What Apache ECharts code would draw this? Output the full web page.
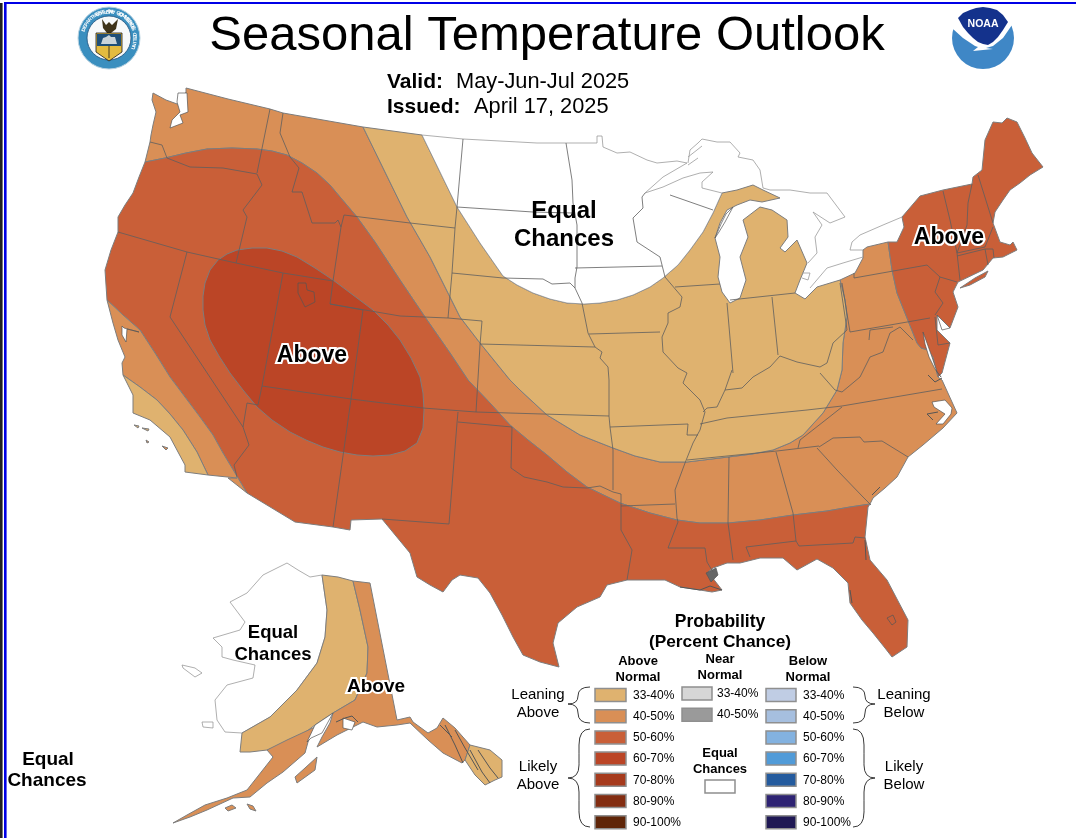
<!DOCTYPE html>
<html>
<head>
<meta charset="utf-8">
<script src="https://cdn.jsdelivr.net/npm/echarts@6/dist/echarts.min.js"></script>
<style>
html,body{margin:0;padding:0;background:#fff;}
#main{width:1076px;height:838px;}
</style>
</head>
<body>
<div id="main"></div>
<script>
// probability bins, legend text
var aboveBins = ['33-40%','40-50%','50-60%','60-70%','70-80%','80-90%','90-100%'];
var aboveColors = ['#dfb26f','#d98f56','#c95f38','#bb4526','#a63a1c','#832d11','#5f2508'];
var nearBins = ['33-40%','40-50%'];
var nearColors = ['#d6d6d6','#9a9a9a'];
var belowBins = ['33-40%','40-50%','50-60%','60-70%','70-80%','80-90%','90-100%'];
var belowColors = ['#c0cde4','#a6bfdf','#83b2e0','#519bd8','#245b9e','#2e2373','#1f1854'];

// shared edges of the outlook map, in map units
var a50North = [[145,162],[165,158],[186,153],[207,149],[232,148],[257,149],[272,151],[287,155],[302,163],[317,173],[330,185],[340,197],[357,217],[375,242],[400,280],[425,317],[450,353],[468,380],[490,403],[510,425],[528,440],[547,455],[567,472],[587,487],[620,503],[650,513],[677,520],[700,523],[728,523],[760,520],[793,515],[827,511],[850,507],[870,504]];
var a33West = [[363,127],[385,172],[407,217],[430,257],[460,317],[480,343],[510,380],[520,390],[547,415],[580,435],[613,448],[635,456],[660,462],[687,462],[728,457],[752,454],[773,450],[790,443],[803,435],[823,413],[837,390],[842,370],[843,343],[847,317],[845,300],[840,280]];
var ecCurve = [[422,135],[440,172],[457,207],[480,243],[503,276],[517,285],[533,293],[550,299],[567,303],[584,304],[600,303],[617,300],[633,295],[650,287],[663,278],[678,265],[690,250],[703,232],[713,213]];
var neEdge = [[888,242],[892,270],[897,293],[907,318],[917,343],[921,348]];
var swEdge = [[107,300],[123,315],[140,330],[155,353],[170,377],[185,397],[200,417],[213,435],[223,453],[235,473],[247,493]];
var socalEdge = [[123,375],[140,387],[157,400],[170,414],[183,430],[197,452],[208,475]];

var pacificNorth = [[145,162],[150,142],[151,135],[153,125],[156,112],[152,100],[153,93],[166,100],[180,105],[186,92],[186,88]];
var border49 = [[228,99],[270,109],[283,113],[323,120],[363,127]];
var pacificMid = [[107,300],[105,270],[111,250],[118,232],[118,217],[125,205],[133,193],[139,177],[145,162]];
var pacificSouth = [[123,375],[122,363],[125,357],[118,340],[113,323],[107,300]];
var socalCoast = [[123,375],[133,395],[133,413],[150,420],[170,437],[178,452],[185,465],[185,472],[208,475]];
var mexicoWest = [[208,475],[237,478],[228,478],[247,493]];
var mexicoEast = [[247,493],[295,522],[333,527],[350,530],[351,520],[382,519],[396,536],[410,553],[417,577],[430,585],[443,592],[452,580],[460,575],[478,578],[490,593],[502,615],[513,637],[523,655],[540,662],[559,667],[553,643],[558,623],[577,607],[600,597],[607,585],[627,580],[660,580],[665,580],[680,587],[700,590],[712,592],[722,590],[708,572],[713,568],[727,563],[740,563],[760,558],[783,558],[797,570],[817,559],[833,568],[848,583],[850,603],[862,620],[873,633],[885,648],[892,657],[907,647],[908,620],[887,580],[870,560],[865,537],[868,507],[870,504]];
var atlanticMid = [[870,504],[873,498],[885,488],[897,477],[908,457],[923,445],[943,428],[957,413],[942,380],[938,377],[933,357],[928,350],[921,348]];
var lakeMichigan = [[713,213],[722,193],[737,190],[753,185],[763,190],[780,198],[762,202],[750,200],[737,205],[727,210],[720,223],[715,238],[720,257],[718,277],[722,292],[730,303],[740,298],[746,280],[740,257],[748,237],[743,220],[760,207],[772,210],[787,220],[788,237],[780,248],[785,252],[797,240],[807,263],[800,280],[795,293],[805,299],[817,287],[840,280]];
var erieShore = [[840,280],[855,273],[863,258],[863,250],[867,247],[888,242]];
var northEastCoast = [[888,242],[897,242],[904,227],[902,217],[920,196],[943,190],[972,184],[973,177],[982,170],[985,140],[993,122],[1002,123],[1007,118],[1017,122],[1025,138],[1032,153],[1043,167],[1030,175],[1020,183],[1010,190],[1003,200],[995,212],[993,223],[1000,242],[1010,245],[1013,242],[1017,250],[1003,257],[993,258],[983,270],[958,282],[953,292],[958,307],[950,328],[937,315],[937,330],[950,343],[942,373],[938,377],[933,357],[928,350],[921,348]];

// zones drawn one by one, later ones lie on top
var zoneNames = ['NW band','Great Plains','Equal Chances north','South and West','California south','California coast','Northeast','Long Island','Rockies core','AK Equal Chances','AK lean north','AK east','AK peninsula','AK panhandle','Kodiak','St Lawrence','Nunivak','San Miguel','Santa Cruz','Santa Catalina','San Clemente','AK chain a','AK chain b'];
var zoneBins = [1,0,-1,2,1,0,2,2,3,-1,0,1,1,0,1,-1,-1,0,0,1,1,1,1];
var zoneRings = [
  pacificNorth.concat(border49,a33West,erieShore,neEdge,atlanticMid.slice().reverse(),a50North.slice().reverse()),
  [[363,127],[422,135]].concat(ecCurve,lakeMichigan,a33West.slice().reverse()),
  ecCurve.concat([[722,193],[702,188],[702,182],[713,172],[700,173],[683,178],[663,187],[645,193],[663,177],[687,163],[677,161],[657,163],[647,160],[630,152],[617,153],[603,147],[602,136],[597,136],[597,143],[537,143],[463,139]]),
  a50North.concat(mexicoEast.slice().reverse(),swEdge.slice().reverse(),pacificMid),
  swEdge.concat(mexicoWest.slice().reverse(),socalEdge.slice().reverse(),pacificSouth),
  socalCoast.concat(socalEdge.slice().reverse()),
  neEdge.slice().reverse().concat(northEastCoast),
  [[960,288],[975,278],[988,271],[985,277],[970,285]],
  [[203,310],[203,296],[205,283],[210,270],[218,260],[227,254],[237,250],[252,248],[267,248],[282,251],[297,257],[315,268],[333,280],[353,295],[373,310],[388,325],[400,340],[411,358],[420,377],[423,393],[424,410],[423,428],[417,443],[405,451],[390,455],[373,456],[357,455],[340,452],[323,447],[306,440],[290,432],[272,420],[257,407],[243,390],[230,373],[219,356],[210,340],[205,325]],
  [[322,575],[310,577],[298,570],[287,563],[263,575],[247,593],[230,602],[245,622],[240,630],[213,638],[222,647],[222,657],[233,660],[255,665],[253,678],[227,685],[215,700],[217,720],[225,732],[242,733],[270,717],[297,690],[317,663],[325,637],[327,610]],
  [[322,575],[338,577],[353,581],[360,610],[368,647],[367,673],[355,700],[333,713],[315,725],[295,740],[277,747],[267,750],[250,752],[240,752],[242,733],[270,717],[297,690],[317,663],[325,637],[327,610]],
  [[353,581],[370,583],[397,720],[410,717],[413,722],[428,733],[437,728],[443,718],[455,728],[470,745],[465,760],[462,763],[443,753],[428,740],[410,723],[397,725],[377,727],[363,722],[347,730],[337,735],[317,747],[322,737],[330,723],[333,713],[355,700],[367,673],[368,647],[360,610]],
  [[315,727],[308,742],[305,753],[283,772],[267,783],[250,797],[233,798],[207,810],[190,817],[173,823],[187,815],[205,805],[227,798],[247,790],[273,757],[267,750],[287,740]],
  [[470,745],[490,750],[502,760],[502,777],[495,780],[485,785],[475,775],[465,760]],
  [[295,777],[305,768],[317,757],[315,770],[297,783]],
  [[182,665],[195,668],[202,673],[195,677],[183,668]],
  [[202,722],[213,722],[213,728],[203,727]],
  [[134,425],[139,426],[138,428]],
  [[142,428],[149,429],[148,431]],
  [[146,440],[149,442],[147,443]],
  [[162,446],[168,448],[166,450]],
  [[247,804],[253,806],[256,811],[250,809]],
  [[225,808],[232,805],[236,808],[228,811]]
];

// white water bodies and small details laid over the zones
var waterNames = ['Puget Sound','Green Bay','Chesapeake','Delaware Bay','Pamlico','Pontchartrain','San Francisco Bay','Prince William Sound','Salt Lake','Okeechobee','Cook Inlet'];
var waterRings = [
  [[178,93],[187,93],[188,112],[180,115],[183,123],[170,128],[172,120],[180,112],[177,102]],
  [[733,207],[726,214],[721,224],[715,238],[719,232],[725,222]],
  [[923,332],[927,343],[932,357],[937,372],[941,377],[935,369],[929,357],[925,344]],
  [[937,315],[950,328],[942,330]],
  [[932,402],[945,400],[952,408],[951,414],[943,424],[936,424],[945,414],[934,407]],
  [[706,573],[716,568],[718,575],[711,582]],
  [[122,326],[124,328],[139,332],[127,329],[126,342],[122,335]],
  [[343,718],[355,722],[352,730],[343,728]],
  [[298,283],[298,293],[305,307],[315,302],[314,292],[307,290],[306,283]],
  [[887,618],[893,615],[896,622],[892,625]],
  [[333,713],[315,725],[307,742],[311,738],[322,733]]
];

// state lines
var stateLines = [
  [[270,109],[257,173]],
  [[283,113],[280,133],[290,157],[299,168],[292,192],[302,192],[312,223],[335,223],[338,220],[341,227]],
  [[150,142],[162,145],[167,158],[190,167],[223,168],[257,174]],
  [[257,174],[262,185],[243,210],[247,217],[236,263]],
  [[118,232],[187,252],[236,263],[283,273],[333,281]],
  [[344,215],[341,227],[333,281],[330,304],[363,310]],
  [[344,215],[410,223],[455,228]],
  [[283,273],[278,300],[262,386],[258,405]],
  [[363,310],[351,399],[333,527]],
  [[262,386],[351,399],[423,408],[476,412]],
  [[187,252],[170,317],[243,427]],
  [[258,405],[247,403],[243,427],[249,445],[234,465],[237,477]],
  [[458,412],[457,423],[449,524],[382,519]],
  [[457,207],[455,228],[452,273],[448,318]],
  [[330,304],[400,316],[448,318],[482,321],[480,345],[476,412]],
  [[480,344],[595,347]],
  [[463,139],[457,207]],
  [[457,207],[533,212],[573,213]],
  [[566,143],[572,180],[573,203],[577,225],[577,267],[575,278],[575,288]],
  [[452,273],[503,278],[543,279],[552,284],[570,283],[575,288],[582,303],[588,333],[595,347],[602,352],[600,358],[608,367],[609,380],[609,416],[610,427],[613,450],[613,490]],
  [[575,268],[662,266]],
  [[589,334],[660,332]],
  [[645,193],[642,197],[643,208],[633,218],[637,242],[660,257],[665,277],[682,297],[680,307],[668,313],[668,323],[662,337],[663,352],[678,368],[687,373],[683,383],[700,400],[705,412],[700,430],[693,443],[685,463],[675,490],[677,518],[678,522],[668,548],[705,548],[707,562],[713,572]],
  [[670,195],[713,210]],
  [[610,427],[688,424],[687,435],[698,435]],
  [[476,412],[609,416]],
  [[621,506],[675,504]],
  [[458,422],[512,427],[511,468],[524,477],[547,482],[563,487],[587,488],[600,486],[613,492],[621,494],[621,530],[632,550],[627,580]],
  [[729,457],[728,523],[733,560]],
  [[687,460],[777,451],[819,446]],
  [[700,424],[727,418],[807,410],[842,406],[942,389]],
  [[776,452],[793,513],[796,541]],
  [[746,547],[796,541],[799,546],[853,543],[855,537],[865,538]],
  [[746,547],[750,557]],
  [[817,448],[837,470],[863,497],[871,505]],
  [[819,447],[833,438],[860,437],[864,442],[882,441],[908,457]],
  [[798,448],[800,440],[823,422],[842,407]],
  [[820,373],[835,390],[842,392],[860,377],[870,357],[883,352],[890,333],[900,327],[913,340]],
  [[869,340],[870,330],[893,327]],
  [[850,332],[930,318]],
  [[842,283],[850,332]],
  [[840,283],[846,323],[847,330],[833,343],[827,363],[820,367],[797,362],[780,356],[770,367],[753,377],[742,388],[725,390],[717,407],[707,408],[703,412]],
  [[732,370],[725,390]],
  [[675,287],[720,284]],
  [[730,300],[795,293]],
  [[727,303],[733,373]],
  [[772,297],[778,355]],
  [[854,273],[854,278],[927,265],[940,277],[957,282]],
  [[940,277],[935,292],[943,303],[935,315]],
  [[935,317],[938,345],[950,343]],
  [[943,191],[950,220],[957,253],[960,280]],
  [[957,256],[985,249],[993,249]],
  [[985,249],[988,265]],
  [[993,249],[994,258]],
  [[972,184],[968,203],[967,225],[957,253]],
  [[957,253],[985,247],[993,227]],
  [[978,175],[993,223]]
];

// lake shores in Canada and islands, thin grey
var lakeShores = [
  [[688,163],[690,150],[698,143],[702,139],[717,142],[730,142],[740,153],[738,157],[753,160],[760,170],[763,188],[770,190],[790,190],[810,193],[827,193],[836,205],[845,217],[830,223],[813,212],[822,225],[815,237],[817,253],[808,263]],
  [[810,288],[827,268],[843,263],[863,257]],
  [[863,250],[850,250],[852,242],[860,235],[883,225],[902,217]],
  [[688,157],[697,150],[702,146]],
  [[688,165],[698,158]],
  [[802,273],[810,273],[808,280],[802,278]]
];

// dark coast detail
var coastDetail = [
  [[445,725],[455,745],[463,763]],
  [[455,730],[465,748],[478,770]],
  [[470,750],[482,772],[490,783]],
  [[478,750],[490,768],[498,778]],
  [[440,725],[452,737]],
  [[336,722],[345,718],[352,716],[358,722]],
  [[680,587],[700,590],[710,586],[722,590]],
  [[933,420],[927,414],[938,412]],
  [[872,495],[880,487]],
  [[865,540],[866,560]],
  [[850,590],[852,603]],
  [[942,378],[935,382],[928,375]]
];

var titleFont = '"Liberation Sans", Arial, sans-serif';

var regions = [];
var features = [];
function binColor(b){ return b < 0 ? '#ffffff' : aboveColors[b]; }

zoneNames.forEach(function(name, i){
  features.push({type:'Feature', properties:{name:name}, geometry:{type:'Polygon', coordinates:[zoneRings[i]]}});
  regions.push({name:name, silent:true, itemStyle:{areaColor:binColor(zoneBins[i]), borderColor:zoneBins[i] < 0 ? '#8c8c8c' : '#7d7d7d', borderWidth:zoneBins[i] < 0 ? 0.7 : 1}});
});
waterNames.forEach(function(name, i){
  features.push({type:'Feature', properties:{name:name}, geometry:{type:'Polygon', coordinates:[waterRings[i]]}});
  var tinted = name == 'Salt Lake' || name == 'Okeechobee';
  var fill = tinted ? 'transparent' : (name == 'Pontchartrain' ? '#666666' : '#ffffff');
  regions.push({name:name, silent:true, itemStyle:{areaColor:fill, borderColor:'#555555', borderWidth:0.7}});
});

echarts.registerMap('outlook', {type:'FeatureCollection', features:features});

var graphics = [];
function txt(s, x, y, size, bold, align, halo){
  var st = {text:s, x:x, y:y, fill:'#000', font:(bold ? 'bold ' : '') + size + 'px ' + titleFont, textAlign:align || 'center', textVerticalAlign:'middle'};
  if (halo) { st.stroke = '#fff'; st.lineWidth = 4; }
  graphics.push({type:'text', z:20, silent:true, style:st});
}
function swatch(x, y, w, h, color){
  graphics.push({type:'rect', z:20, silent:true, shape:{x:x, y:y, width:w, height:h}, style:{fill:color, stroke:'#8f8f8f', lineWidth:1.5}});
}
// brace: quadratic pieces given as x1,y1, control, x2,y2
function brace(parts){
  parts.forEach(function(p){
    graphics.push({type:'bezierCurve', z:20, silent:true, shape:{x1:p[0], y1:p[1], cpx1:p[2], cpy1:p[3], x2:p[4], y2:p[5]}, style:{fill:null, stroke:'#222', lineWidth:0.9}});
  });
}
// letters set round the seal
function ringText(s, startDeg, stepDeg, r, inward){
  s.split('').forEach(function(ch, i){
    var a = (startDeg + i * stepDeg) * Math.PI / 180;
    graphics.push({type:'text', z:23, silent:true, x:109 + r * Math.sin(a), y:38 - r * Math.cos(a), rotation:inward ? Math.PI - a : -a, style:{text:ch, fill:'#ffffff', font:'bold 5px ' + titleFont, textAlign:'center', textVerticalAlign:'middle'}});
  });
}

// page frame
graphics.push({type:'rect', z:30, silent:true, shape:{x:4, y:2, width:1072, height:2}, style:{fill:'#0000e6'}});
graphics.push({type:'rect', z:30, silent:true, shape:{x:4, y:2, width:2.6, height:836}, style:{fill:'#0000e6'}});
graphics.push({type:'rect', z:30, silent:true, shape:{x:0, y:3, width:2.6, height:835}, style:{fill:'#222222'}});

// header
txt('Seasonal Temperature Outlook', 547, 36, 49, false);
txt('Valid:', 387, 82, 21, true, 'left');
txt('May-Jun-Jul 2025', 456, 82, 21.8, false, 'left');
txt('Issued:', 387, 107, 21, true, 'left');
txt('April 17, 2025', 474, 107, 21.8, false, 'left');

// map labels
txt('Above', 312, 356, 23, true, 'center', true);
txt('Above', 949, 238, 23, true, 'center', true);
txt('Equal', 564, 211, 24, true);
txt('Chances', 564, 239, 24, true);
txt('Equal', 273, 633, 18.5, true);
txt('Chances', 273, 655, 18.5, true);
txt('Above', 376, 687, 19, true, 'center', true);
txt('Equal', 48, 760, 19, true);
txt('Chances', 47, 781, 19, true);

// legend
txt('Probability', 720, 622, 17.5, true);
txt('(Percent Chance)', 720, 642, 17.3, true);
txt('Above', 638, 661, 13, true);
txt('Normal', 638, 677, 13, true);
txt('Near', 720, 659, 13, true);
txt('Normal', 720, 675, 13, true);
txt('Below', 808, 661, 13, true);
txt('Normal', 808, 677, 13, true);
aboveBins.forEach(function(b, i){
  swatch(595, 688.5 + i * 21.2, 31, 13, aboveColors[i]);
  txt(b, 633, 695.5 + i * 21.2, 12, false, 'left');
});
nearBins.forEach(function(b, i){
  swatch(682, 687 + i * 21.2, 30, 13, nearColors[i]);
  txt(b, 717, 693.5 + i * 21.2, 12, false, 'left');
});
belowBins.forEach(function(b, i){
  swatch(766, 688.5 + i * 21.2, 30, 13, belowColors[i]);
  txt(b, 803, 695.5 + i * 21.2, 12, false, 'left');
});
txt('Equal', 720, 753, 13, true);
txt('Chances', 720, 769, 13, true);
swatch(705, 780, 30, 13, '#ffffff');
txt('Leaning', 538, 695, 15, false);
txt('Above', 538, 713, 15, false);
txt('Likely', 538, 767, 15, false);
txt('Above', 538, 785, 15, false);
txt('Leaning', 904, 695, 15, false);
txt('Below', 904, 713, 15, false);
txt('Likely', 904, 767, 15, false);
txt('Below', 904, 785, 15, false);
brace([[590,687,578,687,578,696],[578,696,578,704,568,704],[568,704,578,704,578,713],[578,713,578,723,590,723]]);
brace([[590,729,579,729,579,745],[579,745,579,765,579,765],[579,765,579,778,568,778],[568,778,579,778,579,792],[579,792,579,812,579,812],[579,812,579,827,590,827]]);
brace([[853,687,865,687,865,696],[865,696,865,704,875,704],[875,704,865,704,865,713],[865,713,865,723,853,723]]);
brace([[853,729,864,729,864,745],[864,745,864,765,864,765],[864,765,864,778,875,778],[875,778,864,778,864,792],[864,792,864,812,864,812],[864,812,864,827,853,827]]);

// Commerce seal
graphics.push({type:'circle', z:20, silent:true, shape:{cx:109, cy:38, r:31}, style:{fill:'#3a8fbf', stroke:'#b9d3e2', lineWidth:1}});
graphics.push({type:'circle', z:21, silent:true, shape:{cx:109, cy:38, r:22}, style:{fill:'#f7f9fa', stroke:'#1d4f7c', lineWidth:0.8}});
ringText('DEPARTMENT OF COMMERCE', -72, 6.6, 26.5, false);
ringText('UNITED STATES OF AMERICA', 112, -6, 26.5, true);
graphics.push({type:'polygon', z:22, silent:true, shape:{points:[[102,19],[106,25],[109,22],[112,25],[118,19],[116,29],[111,33],[107,33],[103,28]]}, style:{fill:'#3e3319'}});
graphics.push({type:'polygon', z:22, silent:true, shape:{points:[[96,33],[122,33],[122,52],[109,61],[96,52]]}, style:{fill:'#e3bb40', stroke:'#1b1b1b', lineWidth:0.8}});
graphics.push({type:'rect', z:23, silent:true, shape:{x:97, y:34, width:24, height:12}, style:{fill:'#1e4f78'}});
graphics.push({type:'polygon', z:24, silent:true, shape:{points:[[101,44],[117,44],[115,37],[111,37],[109,35],[106,37],[103,38]]}, style:{fill:'#c9d4da'}});
graphics.push({type:'line', z:24, silent:true, shape:{x1:109, y1:46, x2:109, y2:58}, style:{stroke:'#1b1b1b', lineWidth:0.8}});

// NOAA mark
graphics.push({type:'circle', z:20, silent:true, shape:{cx:983, cy:38, r:31}, style:{fill:'#3f87c6'}});
graphics.push({type:'polygon', z:21, silent:true, shape:{points:[[945,2],[1020,2],[1020,24],[1012,25],[1003,38],[993,46],[986,48],[993,49],[973,51],[978,47],[975,46],[963,38],[953,29],[945,26]]}, style:{fill:'#ffffff'}});
graphics.push({type:'polygon', z:22, silent:true, shape:{points:[[958,18],[963,13],[970,10],[976,8],[983,7],[990,8],[997,10],[1003,15],[1008,22],[1003,30],[998,37],[993,42],[988,45],[983,44],[978,42],[973,38],[968,33],[963,27]]}, style:{fill:'#14328c'}});
graphics.push({type:'text', z:23, silent:true, style:{text:'NOAA', x:983, y:24, fill:'#fff', font:'bold 10.5px ' + titleFont, textAlign:'center', textVerticalAlign:'middle'}});

var myChart = echarts.init(document.getElementById('main'));
var option = {
  backgroundColor:'#ffffff',
  animation:false,
  geo:{
    map:'outlook',
    roam:false,
    silent:true,
    left:0, top:0, width:1076, height:838,
    boundingCoords:[[0,0],[1076,838]],
    projection:{project:function(p){return p;}, unproject:function(p){return p;}},
    label:{show:false},
    itemStyle:{areaColor:'#ffffff', borderColor:'#7d7d7d', borderWidth:1},
    emphasis:{disabled:true},
    regions:regions
  },
  series:[
    {type:'lines', coordinateSystem:'geo', polyline:true, silent:true, z:5, lineStyle:{color:'#5e5e5e', width:0.8, opacity:1}, data:stateLines.map(function(c){return {coords:c};})},
    {type:'lines', coordinateSystem:'geo', polyline:true, silent:true, z:5, lineStyle:{color:'#9a9a9a', width:0.8, opacity:1}, data:lakeShores.map(function(c){return {coords:c};})},
    {type:'lines', coordinateSystem:'geo', polyline:true, silent:true, z:6, lineStyle:{color:'#555555', width:1, opacity:1}, data:coastDetail.map(function(c){return {coords:c};})}
  ],
  graphic:{elements:graphics}
};
myChart.setOption(option);
</script>
</body>
</html>
